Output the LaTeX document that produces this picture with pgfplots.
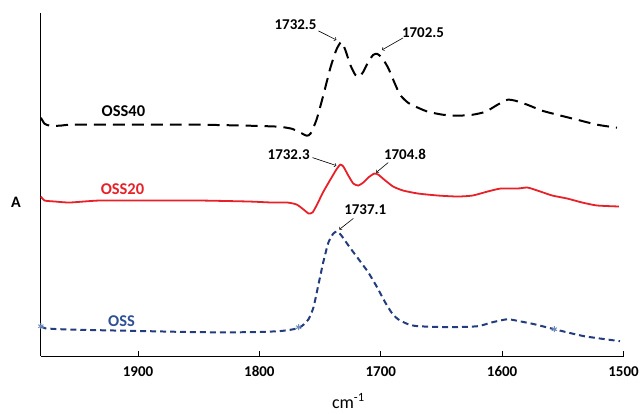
\documentclass[border=0pt]{standalone}
\usepackage{fontspec}
\setmainfont{Carlito}
\usepackage{pgfplots}
\pgfplotsset{compat=1.18}
\usetikzlibrary{calc}
\definecolor{ossred}{RGB}{232,32,40}
\definecolor{ossblue}{RGB}{35,60,125}
\definecolor{osstext}{RGB}{45,80,150}
\definecolor{mk}{RGB}{110,140,190}
\begin{document}
\begin{tikzpicture}
\begin{axis}[
  at={(0,0)}, anchor=south west,
  scale only axis, width=584pt, height=344pt,
  xmin=1500, xmax=1980, ymin=0, ymax=344, x dir=reverse,
  axis x line*=bottom, axis y line*=left,
  axis line style={-, black, line width=0.8pt},
  xtick={1500,1600,1700,1800,1900}, ytick=\empty,
  tick align=inside, major tick length=5pt,
  tick style={black, line width=0.8pt},
  /pgf/number format/assume math mode=true,
  /pgf/number format/1000 sep={},
  xticklabel style={font=\fontsize{15}{18}\selectfont\bfseries, yshift=-7pt},
  clip=false,
]
% OSS40
\addplot[black, line width=2pt, dash pattern=on 12pt off 7pt, smooth, tension=0.35] coordinates {
(1980,239)(1977.0,233)(1972.6,231)(1964.4,231)(1956.2,232)(1931.6,232)(1890.7,232)(1849.7,232)(1808.7,231)(1784.1,230)(1773.4,228)(1767.7,225)(1761.1,221)(1757.9,223)
(1752.9,237)(1747.2,262)(1741.5,289)(1736.6,307)(1732.5,315)(1729.2,307)(1725.1,292)(1721.0,282)(1717.7,280)(1714.4,285)(1710.3,295)(1706.2,302)(1703.0,303)(1698.9,299)(1693.9,289)(1689.0,275)(1684.1,262)(1677.5,254)(1669.3,249)(1661.1,245)(1648.9,242)(1636.6,241)(1624.3,242)(1613.6,245)(1603.8,252)(1595.6,257)(1589.0,256)(1579.2,252)(1566.9,246)(1554.6,242)(1538.2,237)(1521.8,232)(1505.4,229)
};
% OSS20
\addplot[ossred, line width=1.8pt, smooth, tension=0.35] coordinates {
(1980,160)(1977.0,156)(1968.5,155)(1956.2,154)(1931.6,156)(1890.7,156)(1849.7,156)(1808.7,155)(1790,154)(1777,154)(1769.3,152)(1763.6,147)(1759.5,143)(1756.2,144)(1752.9,151)(1747.2,165)(1741.5,177)(1736.6,187)(1733.3,192)(1730.8,190)(1726.7,181)(1722.6,173)(1718.5,171)(1714.4,174)(1710.3,179)(1705.4,183)(1702.1,182)(1697.2,177)(1689.8,170)(1681.6,166)(1669.3,163)(1652.9,161)(1636.6,160)(1624.3,161)(1612.0,165)(1601.3,168)(1587.4,168)(1579.2,169)(1570.9,166)(1558.7,161)(1546.4,158)(1534.1,154)(1521.8,151)(1503.8,150)
};
% OSS
\addplot[ossblue, line width=2pt, dash pattern=on 6pt off 4pt, smooth, tension=0.35] coordinates {
(1980,30)(1976.7,28)(1964.4,27)(1931.6,26)(1890.7,25)(1849.7,24)(1808.7,24)(1784.1,25)(1771.8,27)(1765.2,30)(1759.5,37)(1755.4,49)(1751.3,72)(1747.2,95)(1743.1,114)(1739.0,123)(1735.7,125)(1732.5,121)(1728.4,114)(1724.3,107)(1716.9,95)(1710.3,84)(1703.0,69)(1696.4,54)(1690.7,43)(1685.7,37)(1677.5,32)(1669.3,30)(1642.3,29)(1620.2,30)(1607.9,34)(1595.6,37)(1585.7,35)(1573.4,32)(1557.0,27)(1532.4,20)(1502.9,15)
};
\addplot[only marks, mk, mark=asterisk, mark size=3pt, line width=1pt] coordinates {(1980,30)(1767.7,29)(1557,27)};
% labels
\node[font=\fontsize{16.5}{19}\selectfont\bfseries, black] at (axis cs:1912,246) {OSS40};
\node[font=\fontsize{16.5}{19}\selectfont\bfseries, ossred] at (axis cs:1912.8,167) {OSS20};
\node[font=\fontsize{16.5}{19}\selectfont\bfseries, osstext] at (axis cs:1913.6,35) {OSS};
\node[font=\fontsize{16}{19}\selectfont\bfseries] at (axis cs:2000.5,154) {A};
\node[font=\fontsize{18}{21}\selectfont] at (axis cs:1726.7,-45) {cm\textsuperscript{-1}};
% annotations
\tikzset{ann/.style={font=\fontsize{15}{18}\selectfont\bfseries}}
\node[ann] at (axis cs:1770.2,332) {1732.5};
\draw[->, line width=0.6pt] (axis cs:1751.3,326) -- (axis cs:1736.6,317);
\node[ann] at (axis cs:1665.2,324) {1702.5};
\draw[->, line width=0.6pt] (axis cs:1681.6,319) -- (axis cs:1698.9,307);
\node[ann] at (axis cs:1775.9,202) {1732.3};
\draw[->, line width=0.6pt] (axis cs:1756.2,199) -- (axis cs:1736.6,191);
\node[ann] at (axis cs:1680,202) {1704.8};
\draw[->, line width=0.6pt] (axis cs:1693.9,194) -- (axis cs:1703.8,184);
\node[ann] at (axis cs:1712.8,147) {1737.1};
\draw[->, line width=0.6pt] (axis cs:1722.6,138) -- (axis cs:1734.1,127);
\end{axis}
\path[use as bounding box] (-41pt,-57pt) rectangle (601pt,357pt);
\end{tikzpicture}
\end{document}
